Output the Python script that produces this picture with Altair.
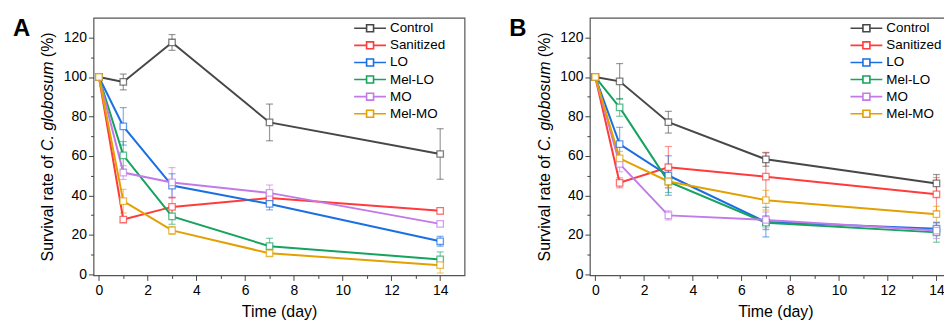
import altair as alt
import pandas as pd

# ---------------- data ----------------
days = [0, 1, 3, 7, 14]
series = ["Control", "Sanitized", "LO", "Mel-LO", "MO", "Mel-MO"]
colors = ["#474747", "#ff3b3b", "#1a6fe3", "#16a35f", "#c27ae8", "#e3a000"]

# Panel A: means and SD
a_control = [100, 97.5, 117.5, 77.0, 61.0]
a_control_sd = [0, 4.0, 4.0, 9.3, 12.8]
a_sanitized = [100, 27.8, 34.2, 38.7, 32.2]
a_sanitized_sd = [0, 1.5, 4.5, 3.0, 1.5]
a_lo = [100, 75.0, 45.0, 35.7, 16.8]
a_lo_sd = [0, 9.5, 6.0, 3.0, 2.5]
a_mello = [100, 60.3, 29.4, 14.3, 7.6]
a_mello_sd = [0, 7.0, 4.0, 4.0, 3.8]
a_mo = [100, 51.6, 46.6, 41.3, 25.6]
a_mo_sd = [0, 3.5, 7.5, 4.0, 1.2]
a_melmo = [100, 37.1, 22.3, 10.7, 4.7]
a_melmo_sd = [0, 6.0, 2.0, 1.5, 4.0]

# Panel B: means and SD
b_control = [100, 97.8, 77.1, 58.3, 46.1]
b_control_sd = [0, 9.0, 5.5, 3.5, 4.5]
b_sanitized = [100, 46.4, 54.3, 49.5, 40.6]
b_sanitized_sd = [0, 2.5, 10.5, 12.0, 8.5]
b_lo = [100, 66.0, 50.1, 26.5, 23.2]
b_lo_sd = [0, 8.5, 10.0, 7.5, 3.0]
b_mello = [100, 84.6, 47.0, 26.2, 21.3]
b_mello_sd = [0, 4.5, 5.5, 3.5, 5.0]
b_mo = [100, 56.0, 29.9, 27.6, 22.2]
b_mo_sd = [0, 4.0, 2.3, 4.0, 4.0]
b_melmo = [100, 58.8, 47.1, 37.6, 30.5]
b_melmo_sd = [0, 3.5, 3.0, 5.0, 4.0]

x_major = [0, 2, 4, 6, 8, 10, 12, 14]
x_minor = [1, 3, 5, 7, 9, 11, 13]
y_major = [0, 20, 40, 60, 80, 100, 120]
y_minor = [10, 30, 50, 70, 90, 110]


def make_df(means, sds):
    rows = []
    for name, m, s in zip(series, means, sds):
        for d, v, e in zip(days, m, s):
            rows.append({"series": name, "day": d, "mean": v, "sd": e,
                         "lo": v - e, "hi": v + e})
    return pd.DataFrame(rows)


df_a = make_df([a_control, a_sanitized, a_lo, a_mello, a_mo, a_melmo],
               [a_control_sd, a_sanitized_sd, a_lo_sd, a_mello_sd, a_mo_sd, a_melmo_sd])
df_b = make_df([b_control, b_sanitized, b_lo, b_mello, b_mo, b_melmo],
               [b_control_sd, b_sanitized_sd, b_lo_sd, b_mello_sd, b_mo_sd, b_melmo_sd])

# ---------------- style ----------------
FONT = "Liberation Sans"
H = 259
TITLE_FS = 16
NB = "\u00a0"
# y-axis title in three pieces (Arial em widths incl. spaces: 6.947, 5.613, 1.833)
T1, T2, T3 = "Survival rate of", "C." + NB + "globosum", "(%)"
Y_BOTTOM = 245.0
Y_P2_CENTER = Y_BOTTOM - (6.947 + 5.613 / 2) * TITLE_FS
Y_TOP = Y_BOTTOM - (6.947 + 5.613 + 1.833) * TITLE_FS

LEG_PATH = ("M-2.667,0L-0.583,0M0.583,0L2.667,0"
            "M-0.583,-0.583L0.583,-0.583L0.583,0.583L-0.583,0.583Z")
CAP_PATH = "M-1,0L1,0"

yscale = alt.Scale(domain=[-0.5, 130], nice=False, zero=False)
cscale = alt.Scale(domain=series, range=colors)


def panel(df, letter, width, xmax, title_x):
    xscale = alt.Scale(domain=[-0.22, xmax], nice=False, zero=False)
    legend = alt.Legend(title=None, orient="none", legendX=271, legendY=3.5,
                        symbolType=LEG_PATH, symbolSize=144, symbolStrokeWidth=1.6,
                        symbolFillColor="white", symbolOpacity=1,
                        labelFont=FONT, labelFontSize=13.5, labelColor="black",
                        labelOffset=13, rowPadding=3.2, padding=0)
    color = alt.Color("series:N", scale=cscale, legend=legend, sort=series)
    base = alt.Chart(df)
    err = base.transform_filter("datum.sd > 0")

    bars = err.mark_rule(strokeWidth=1.2, opacity=0.55).encode(
        x=alt.X("day:Q", scale=xscale, axis=None),
        y=alt.Y("lo:Q", scale=yscale, axis=None), y2="hi:Q", color=color)
    cap_lo = err.mark_point(shape=CAP_PATH, size=49, filled=False, strokeWidth=1.2,
                            opacity=0.55).encode(
        x=alt.X("day:Q", scale=xscale, axis=None),
        y=alt.Y("lo:Q", scale=yscale, axis=None), color=color)
    cap_hi = err.mark_point(shape=CAP_PATH, size=49, filled=False, strokeWidth=1.2,
                            opacity=0.55).encode(
        x=alt.X("day:Q", scale=xscale, axis=None),
        y=alt.Y("hi:Q", scale=yscale, axis=None), color=color)

    lines = base.mark_line(strokeWidth=2).encode(
        x=alt.X("day:Q", scale=xscale,
                axis=alt.Axis(values=x_major, orient="bottom", title="Time (day)",
                              grid=False, domain=False, tickSize=5, tickColor="#444",
                              tickWidth=1, labelPadding=3, labelFontSize=14,
                              labelFont=FONT, labelColor="black", titleFont=FONT,
                              titleFontSize=16, titleFontWeight="normal",
                              titleColor="black", titlePadding=6, titleX=title_x)),
        y=alt.Y("mean:Q", scale=yscale,
                axis=alt.Axis(values=y_major, orient="left", title=None, grid=False,
                              domain=False, tickSize=5, tickColor="#444", tickWidth=1,
                              labelPadding=2, labelFontSize=14, labelFont=FONT,
                              labelColor="black")),
        color=color)

    points = base.mark_point(shape="square", size=42, filled=False, fill="white",
                             strokeWidth=1.3, opacity=1, strokeOpacity=0.7).encode(
        x=alt.X("day:Q", scale=xscale, axis=None),
        y=alt.Y("mean:Q", scale=yscale, axis=None), color=color)

    minor = base.mark_point(opacity=0).encode(
        x=alt.X("day:Q", scale=xscale,
                axis=alt.Axis(values=x_minor, orient="bottom", labels=False, title=None,
                              grid=False, domain=False, tickSize=3, tickColor="#444")),
        y=alt.Y("mean:Q", scale=yscale,
                axis=alt.Axis(values=y_minor, orient="left", labels=False, title=None,
                              grid=False, domain=False, tickSize=3, tickColor="#444")))

    lab = alt.Chart(pd.DataFrame({"t": [letter]})).mark_text(
        font="Liberation Sans", fontSize=24, fontWeight="bold", align="left",
        baseline="alphabetic", color="black").encode(
        text="t:N", x=alt.value(-81), y=alt.value(18))

    def ytxt(t, style, align, ypos):
        return alt.Chart(pd.DataFrame({"t": [t]})).mark_text(
            font=FONT, fontSize=TITLE_FS, fontStyle=style, angle=270, align=align,
            baseline="alphabetic", color="black").encode(
            text="t:N", x=alt.value(-40.5), y=alt.value(ypos))

    t1 = ytxt(T1, "normal", "left", Y_BOTTOM)
    t2 = ytxt(T2, "italic", "center", Y_P2_CENTER)
    t3 = ytxt(T3, "normal", "right", Y_TOP)

    return alt.layer(bars, cap_lo, cap_hi, lines, points, minor, lab, t1, t2, t3).resolve_axis(
        x="independent", y="independent").properties(width=width, height=H)


# panel B runs off the right edge of the figure in the reference: same scale, cut at day ~14.35
chart = alt.hconcat(panel(df_a, "A", 373, 15, 186.5),
                    panel(df_b, "B", 357, 14.35, 186.5), spacing=43).resolve_legend(
    color="independent").properties(
    padding={"left": 4, "top": 7, "right": -2, "bottom": 0}).configure_view(
    stroke="#555555", strokeWidth=1.2)

chart.save("out.html", embed_options={"renderer": "svg", "actions": False})
